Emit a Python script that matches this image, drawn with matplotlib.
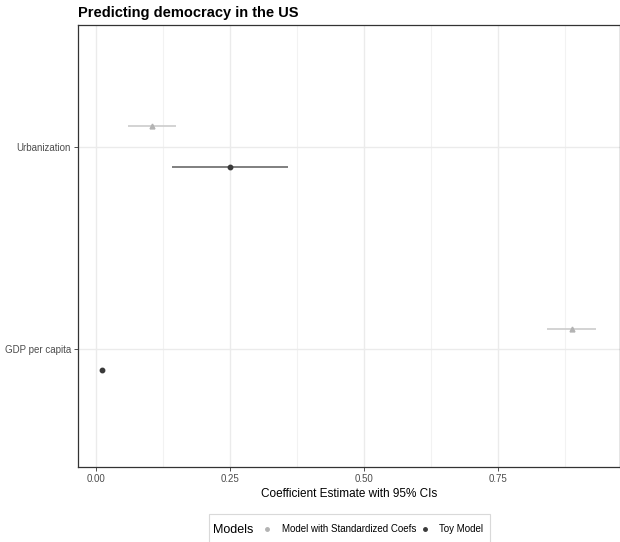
import matplotlib.pyplot as plt
from matplotlib.lines import Line2D
from matplotlib.patches import Rectangle
import numpy as np

# dati
variables = ['GDP per capita', 'Urbanization']
std_est = [0.888, 0.105]
std_lo = [0.842, 0.060]
std_hi = [0.933, 0.149]
toy_est = [0.011, 0.250]
toy_lo = [0.009, 0.142]
toy_hi = [0.013, 0.358]

plt.rcParams['font.family'] = ['Liberation Sans', 'DejaVu Sans']

W, H = 620, 542
fig = plt.figure(figsize=(W / 100, H / 100), dpi=100)
ax = fig.add_axes([78 / W, 1 - 467 / H, 542 / W, 442 / H])

ypos = np.arange(1, len(variables) + 1)
off = 0.1

# Model with Standardized Coefs (sopra)
std_est_a = np.array(std_est)
ax.errorbar(std_est_a, ypos + off,
            xerr=[std_est_a - np.array(std_lo), np.array(std_hi) - std_est_a],
            fmt='^', color='#b3b3b3', ecolor='#cccccc', elinewidth=1.2,
            markersize=3.5, capsize=0, zorder=3)

# Toy Model (sotto)
toy_est_a = np.array(toy_est)
ax.errorbar(toy_est_a, ypos - off,
            xerr=[toy_est_a - np.array(toy_lo), np.array(toy_hi) - toy_est_a],
            fmt='o', color='#3a3a3a', ecolor='#6a6a6a', elinewidth=1.2,
            markersize=3.2, capsize=0, zorder=3)

ax.set_xlim(-0.0336, 0.978)
ax.set_ylim(0.42, 2.6)
ax.set_xticks([0, 0.25, 0.5, 0.75])
ax.set_xticklabels(['0.00', '0.25', '0.50', '0.75'])
ax.set_xticks([0.125, 0.375, 0.625, 0.875], minor=True)
ax.set_yticks(ypos)
ax.set_yticklabels(variables)

ax.grid(True, which='major', color='#ebebeb', linewidth=1.0, zorder=0)
ax.grid(True, which='minor', axis='x', color='#f2f2f2', linewidth=0.8, zorder=0)
ax.set_axisbelow(True)
ax.tick_params(which='major', length=3, width=0.6, color='#333333',
               labelsize=7, labelcolor='#4d4d4d', pad=2)
ax.tick_params(which='minor', length=0)
for s in ax.spines.values():
    s.set_color('#333333')
    s.set_linewidth(0.9)

ax.set_xlabel('Coefficient Estimate with 95% CIs', fontsize=8.5, labelpad=3)
ax.set_title('Predicting democracy in the US', fontsize=10.5, fontweight='bold',
             loc='left', pad=6)

# legenda in basso, orizzontale con titolo a sinistra
fig.patches.append(Rectangle((209 / W, 1 - 546 / H), 281 / W, 32 / H,
                             transform=fig.transFigure, facecolor='white',
                             edgecolor='#d9d9d9', linewidth=0.8))
fig.text(213 / W, 1 - 533 / H, 'Models', fontsize=9, va='baseline', ha='left')

handles = [Line2D([], [], linestyle='none', marker='o', markersize=2.5, color='#b3b3b3'),
           Line2D([], [], linestyle='none', marker='o', markersize=2.5, color='#3a3a3a')]
labels = ['Model with Standardized Coefs', 'Toy Model']
fig.legend(handles, labels, ncol=2, loc='center left',
           bbox_to_anchor=(264 / W, 1 - 529.5 / H), fontsize=7,
           frameon=False, borderpad=0, borderaxespad=0,
           handlelength=0.6, handletextpad=1.2, columnspacing=0.6)

plt.savefig('out.png', dpi=100)
plt.close()
